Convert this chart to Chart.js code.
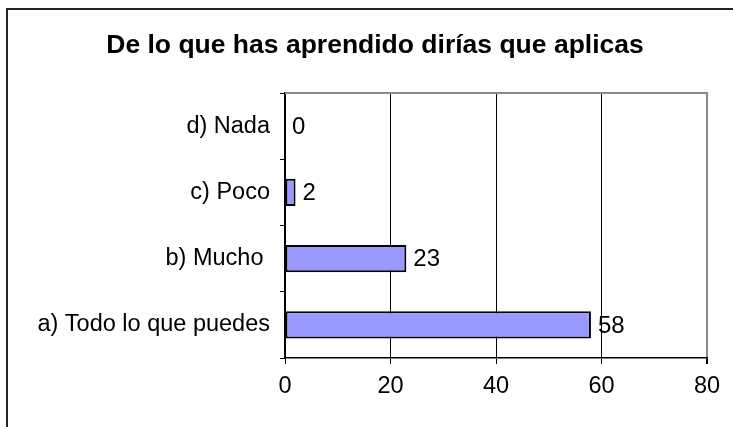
<!DOCTYPE html>
<html><head><meta charset="utf-8">
<script src="https://cdn.jsdelivr.net/npm/chart.js@4"></script>
<style>
html,body{margin:0;padding:0;background:#fff;overflow:hidden;}
#wrap{position:relative;width:733px;height:427px;overflow:hidden;}
#frame{position:absolute;left:6px;top:8px;width:740px;height:440px;border-top:2px solid #222;border-left:2px solid #222;}
canvas{position:absolute;left:0;top:0;}
</style></head>
<body><div id="wrap"><div id="frame"></div><canvas id="c" width="733" height="427"></canvas></div>
<script>
const title = "De lo que has aprendido dirías que aplicas";
const categories = ["d) Nada", "c) Poco", "b) Mucho ", "a) Todo lo que puedes"];
const values = [0, 2, 23, 58];
const xTicks = [0, 20, 40, 60, 80];

const FONT = "'Liberation Sans', Arial, sans-serif";

const extras = {
  id: 'extras',
  afterDraw(chart) {
    const ctx = chart.ctx, a = chart.chartArea;
    ctx.save();
    ctx.strokeStyle = '#888';
    ctx.lineWidth = 2;
    ctx.beginPath();
    ctx.moveTo(a.left, a.top); ctx.lineTo(a.right + 1, a.top);
    ctx.stroke();
    // data labels
    const meta = chart.getDatasetMeta(0);
    ctx.fillStyle = '#000';
    ctx.font = "24px " + FONT;
    ctx.textBaseline = 'middle';
    ctx.textAlign = 'left';
    meta.data.forEach((bar, i) => {
      ctx.fillText(String(values[i]), bar.x + 7, bar.y + 1);
    });
    // title
    ctx.font = "bold 26.5px " + FONT;
    ctx.textAlign = 'center';
    ctx.fillText(title, 375, 46);
    ctx.restore();
  }
};

new Chart(document.getElementById('c'), {
  type: 'bar',
  data: {
    labels: categories,
    datasets: [{
      data: values,
      backgroundColor: '#9999FF',
      borderColor: '#000',
      borderWidth: 2,
      borderSkipped: false,
      categoryPercentage: 1,
      barPercentage: 0.41
    }]
  },
  options: {
    indexAxis: 'y',
    responsive: false,
    animation: false,
    layout: { padding: { left: 0, right: 26, top: 93, bottom: 0 } },
    plugins: { legend: { display: false }, tooltip: { enabled: false }, title: { display: false } },
    scales: {
      x: {
        min: 0, max: 80,
        afterBuildTicks(s) { s.ticks = xTicks.map(v => ({ value: v })); },
        afterFit(s) { s.height = 69; },
        grid: {
          color: ctx => (ctx.tick && ctx.tick.value === 80) ? '#888' : '#000',
          lineWidth: ctx => (ctx.tick && ctx.tick.value === 80) ? 2 : 1,
          drawTicks: true, tickLength: 6, tickColor: '#000'
        },
        border: { display: true, color: '#000', width: 1.5 },
        ticks: { color: '#000', font: { family: FONT, size: 23.5 }, padding: 8 }
      },
      y: {
        afterFit(s) { s.width = 285; },
        grid: { drawOnChartArea: false, drawTicks: true, tickLength: 5, color: '#000', offset: true },
        border: { display: true, color: '#000', width: 1.5 },
        ticks: { color: '#000', font: { family: FONT, size: 23.5 }, padding: 10 }
      }
    }
  },
  plugins: [extras]
});
</script></body></html>
